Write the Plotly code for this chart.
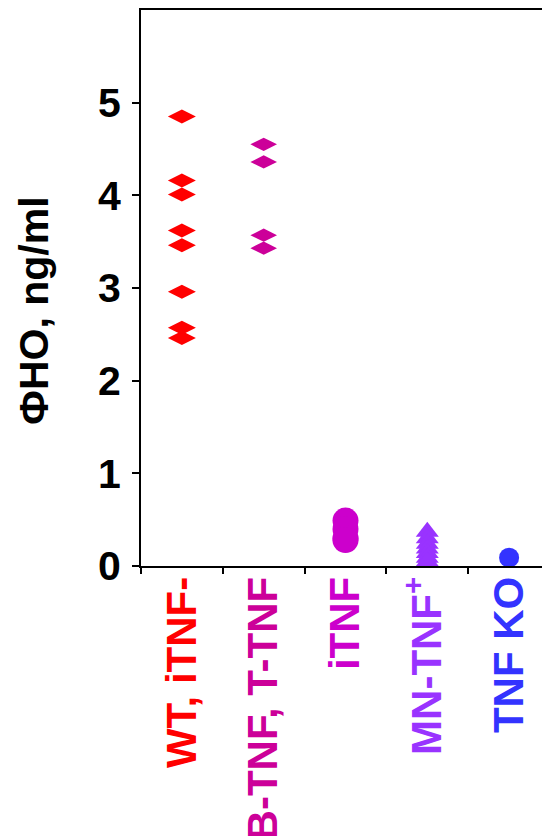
import plotly.graph_objects as go

categories = ["WT, iTNF-", "B-TNF, T-TNF", "iTNF", "MN-TNF<sup>+</sup>", "TNF KO"]
cat_colors = ["#FF0000", "#CC0099", "#CC00CC", "#9933FF", "#3333FF"]

wt_vals = [4.85, 4.16, 4.01, 3.62, 3.46, 2.96, 2.57, 2.46]
btnf_vals = [4.55, 4.36, 3.57, 3.43]
itnf_vals = [0.49, 0.40, 0.30, 0.28]
mn_vals = [0.37, 0.30, 0.24, 0.19, 0.14, 0.09, 0.05]
ko_vals = [0.09]

y_ticks = [0, 1, 2, 3, 4, 5]
y_title = "ФНО, ng/ml"

groups = [
    (wt_vals, "diamond-wide", 20),
    (btnf_vals, "diamond-wide", 19),
    (itnf_vals, "circle", 26),
    (mn_vals, "triangle-up", 20),
    (ko_vals, "circle", 20),
]

fig = go.Figure()
for i, (vals, sym, sz) in enumerate(groups):
    fig.add_trace(go.Scatter(
        x=[i] * len(vals), y=vals, mode="markers",
        marker=dict(symbol=sym, size=sz, color=cat_colors[i], line=dict(width=0)),
        cliponaxis=False, showlegend=False,
    ))

font_family = "Liberation Sans, Arial, sans-serif"
ticktext = [f'<span style="color:{c}">{t}</span>' for t, c in zip(categories, cat_colors)]

fig.add_annotation(
    text=y_title, xref="paper", yref="paper", x=-0.262, y=0.46,
    xanchor="center", yanchor="middle", textangle=-90, showarrow=False,
    font=dict(size=41, family=font_family, weight="bold", color="black"),
)

fig.update_layout(
    width=550, height=836,
    margin=dict(l=133, r=8, t=2, b=278, autoexpand=False),
    plot_bgcolor="white", paper_bgcolor="white",
    font=dict(family=font_family, size=41, color="black", weight="bold"),
    xaxis=dict(
        range=[-0.5, 4.5], automargin=False,
        tickmode="array", tickvals=list(range(len(categories))), ticktext=ticktext,
        tickangle=-90, ticks="", showgrid=False, zeroline=False,
        showline=True, linecolor="black", linewidth=2, mirror=True,
        tickfont=dict(size=42, family=font_family, weight="bold"),
        ticklabelstandoff=-8,
        minor=dict(tickmode="array", tickvals=[-0.5, 0.5, 1.5, 2.5, 3.5],
                   ticks="outside", ticklen=6, tickwidth=2, tickcolor="black", showgrid=False),
    ),
    yaxis=dict(
        range=[0, 6], automargin=False, tickmode="array", tickvals=y_ticks,
        ticks="outside", ticklen=7, tickwidth=2, tickcolor="black",
        showgrid=False, zeroline=False,
        showline=True, linecolor="black", linewidth=2,
        tickfont=dict(size=41, family=font_family, weight="bold"),
        ticklabelstandoff=3,
    ),
)

fig.write_html("out.html")
